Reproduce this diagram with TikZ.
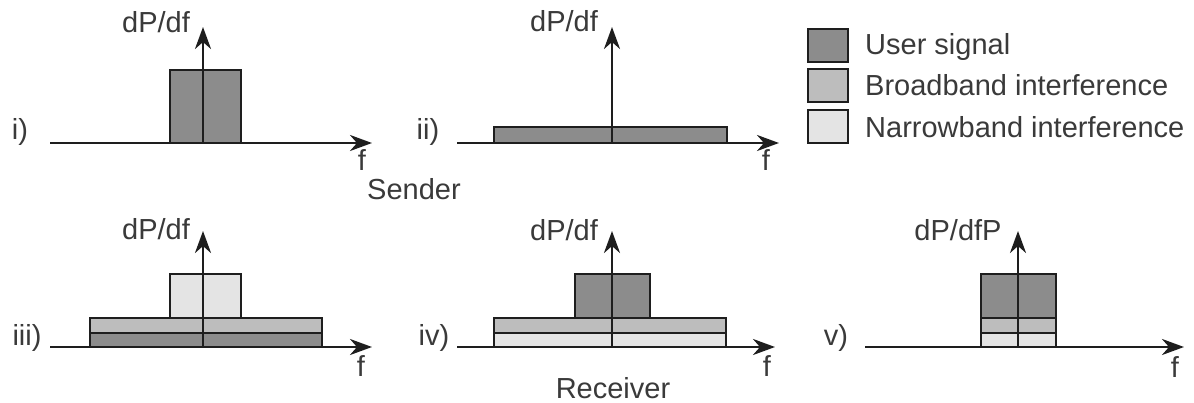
\documentclass[tikz,border=0pt]{standalone}
\usepackage{fontspec}
\setmainfont{Liberation Sans}
\usetikzlibrary{arrows.meta}
\definecolor{usercol}{HTML}{8C8C8C}
\definecolor{broadcol}{HTML}{BDBDBD}
\definecolor{narrowcol}{HTML}{E4E4E4}
\definecolor{txtcol}{HTML}{3A3A3A}
\definecolor{linecol}{HTML}{1E1E1E}
\tikzset{
  axis/.style={draw=linecol, line width=2.8pt, -{Stealth[length=22pt,width=16pt,inset=7pt]}},
  band/.style={draw=linecol, line width=2.2pt},
  user/.style={band, fill=usercol},
  broad/.style={band, fill=broadcol},
  narrow/.style={band, fill=narrowcol},
  lbl/.style={text=txtcol, font=\fontsize{29}{34}\selectfont, anchor=base, inner sep=0pt},
  leg/.style={lbl, anchor=base west},
}
\begin{document}
\begin{tikzpicture}[x=1pt,y=-1pt]
\useasboundingbox[fill=white] (0,0) rectangle (1194,402);

% ---------- panel i ----------
\coordinate (o1) at (203,143);
\coordinate (h1a) at (50,143);
\coordinate (h1b) at (372,143);
\coordinate (v1) at (203,27);
\draw[user] (170,143) rectangle (241,70);
\draw[axis] (h1a) -- (h1b);
\draw[axis] (o1) -- (v1);
\node[lbl] (y1) at (156,32) {dP/df};
\node[lbl] (n1) at (20,139) {i)};
\node[lbl] (f1) at (362,170) {f};

% ---------- panel ii ----------
\coordinate (o2) at (612,143);
\coordinate (h2a) at (457,143);
\coordinate (h2b) at (779,143);
\coordinate (v2) at (612,27);
\draw[user] (494,143) rectangle (727,127);
\draw[axis] (h2a) -- (h2b);
\draw[axis] (o2) -- (v2);
\node[lbl] (y2) at (564,31) {dP/df};
\node[lbl] (n2) at (428,139) {ii)};
\node[lbl] (f2) at (766,170) {f};

\node[lbl] (sender) at (414,199) {Sender};

% ---------- legend ----------
\draw[user] (808,29) rectangle (848,62);
\draw[broad] (808,69) rectangle (848,102);
\draw[narrow] (808,110) rectangle (848,143);
\node[leg] (l1) at (865,54) {User signal};
\node[leg] (l2) at (865,95) {Broadband interference};
\node[leg] (l3) at (865,137) {Narrowband interference};

% ---------- panel iii ----------
\coordinate (o3) at (203,347);
\coordinate (h3a) at (50,347);
\coordinate (h3b) at (372,347);
\coordinate (v3) at (203,231);
\draw[user] (90,347) rectangle (322,333);
\draw[broad] (90,333) rectangle (322,318);
\draw[narrow] (170,318) rectangle (241,274);
\draw[axis] (h3a) -- (h3b);
\draw[axis] (o3) -- (v3);
\node[lbl] (y3) at (156,239) {dP/df};
\node[lbl] (n3) at (27,345) {iii)};
\node[lbl] (f3) at (361,376) {f};

% ---------- panel iv ----------
\coordinate (o4) at (612,347);
\coordinate (h4a) at (457,347);
\coordinate (h4b) at (775,347);
\coordinate (v4) at (612,231);
\draw[narrow] (494,347) rectangle (726,333);
\draw[broad] (494,333) rectangle (726,318);
\draw[user] (575,318) rectangle (650,274);
\draw[axis] (h4a) -- (h4b);
\draw[axis] (o4) -- (v4);
\node[lbl] (y4) at (564,240) {dP/df};
\node[lbl] (n4) at (434,345) {iv)};
\node[lbl] (f4) at (767,376) {f};

\node[lbl] (receiver) at (613,398) {Receiver};

% ---------- panel v ----------
\coordinate (o5) at (1018,347);
\coordinate (h5a) at (865,347);
\coordinate (h5b) at (1184,347);
\coordinate (v5) at (1018,231);
\draw[narrow] (981,347) rectangle (1056,333);
\draw[broad] (981,333) rectangle (1056,318);
\draw[user] (981,318) rectangle (1056,274);
\draw[axis] (h5a) -- (h5b);
\draw[axis] (o5) -- (v5);
\node[lbl] (y5) at (958,240) {dP/dfP};
\node[lbl] (n5) at (836,345) {v)};
\node[lbl] (f5) at (1175,377) {f};
\end{tikzpicture}
\end{document}
